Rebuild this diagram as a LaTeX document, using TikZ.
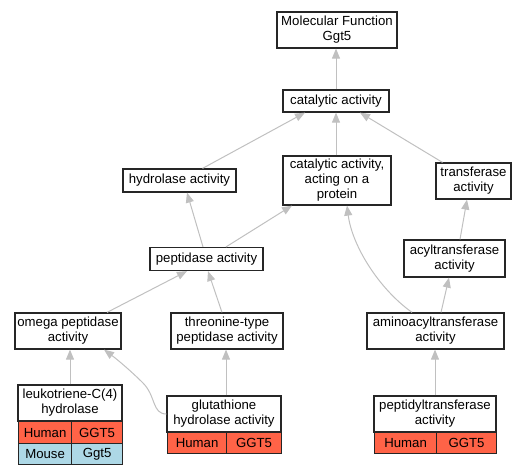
\documentclass[tikz,border=0pt]{standalone}
\usepackage{fontspec}
\setmainfont{Liberation Sans}
\usetikzlibrary{arrows.meta,calc}
\definecolor{edgegray}{HTML}{C0C0C0}
\definecolor{humanred}{HTML}{FF6347}
\definecolor{mouseblue}{HTML}{ADD8E6}
\begin{document}
\begin{tikzpicture}[x=1pt,y=-1pt,
  termbox/.style={draw=black!85,line width=1.2pt,fill=white,inner sep=0pt,align=center,
    font=\fontsize{13.2}{15}\selectfont},
  cellbox/.style={draw=black!85,line width=1.2pt,inner sep=0pt,anchor=north west,
    font=\fontsize{13.2}{15}\selectfont},
  humancell/.style={cellbox,fill=humanred},
  mousecell/.style={cellbox,fill=mouseblue},
  isa/.style={draw=edgegray,line width=1pt,-{Triangle[length=10pt,width=8pt]}}]
\useasboundingbox (0,0) rectangle (527,475);
% term nodes
\node[termbox,minimum width=120pt,minimum height=36pt] (mf) at (337,30) {Molecular Function\\Ggt5};
\node[termbox,minimum width=106pt,minimum height=22pt] (cat) at (336,101) {catalytic activity};
\node[termbox,minimum width=113pt,minimum height=23pt] (hyd) at (179.5,180.5) {hydrolase activity};
\node[termbox,minimum width=108pt,minimum height=49pt] (cap) at (337,180.5) {catalytic activity,\\acting on a\\protein};
\node[termbox,minimum width=75pt,minimum height=36pt] (tra) at (473.5,181) {transferase\\activity};
\node[termbox,minimum width=113pt,minimum height=23pt] (pep) at (206.5,259) {peptidase activity};
\node[termbox,minimum width=101pt,minimum height=37pt] (acy) at (454.5,258.5) {acyltransferase\\activity};
\node[termbox,minimum width=106pt,minimum height=36pt] (ome) at (68,331) {omega peptidase\\activity};
\node[termbox,minimum width=112pt,minimum height=36pt] (thr) at (227,331) {threonine-type\\peptidase activity};
\node[termbox,minimum width=137pt,minimum height=36pt] (ami) at (435.5,331) {aminoacyltransferase\\activity};
% leaf nodes with gene tables
\node[termbox,minimum width=104pt,minimum height=36pt] (leu) at (70,403) {leukotriene-C(4)\\hydrolase};
\node[humancell,minimum width=53pt,minimum height=22pt] (leuh1) at (18,421) {Human};
\node[humancell,minimum width=51pt,minimum height=22pt] (leuh2) at (71,421) {GGT5};
\node[mousecell,minimum width=53pt,minimum height=21pt] (leum1) at (18,443) {Mouse};
\node[mousecell,minimum width=51pt,minimum height=21pt] (leum2) at (71,443) {Ggt5};
\node[termbox,minimum width=114pt,minimum height=36pt] (glu) at (224,414) {glutathione\\hydrolase activity};
\node[humancell,minimum width=59pt,minimum height=21pt] (gluh1) at (167,432) {Human};
\node[humancell,minimum width=55pt,minimum height=21pt] (gluh2) at (226,432) {GGT5};
\node[termbox,minimum width=122pt,minimum height=36pt] (ppt) at (435,414) {peptidyltransferase\\activity};
\node[humancell,minimum width=62pt,minimum height=21pt] (ppth1) at (374,432) {Human};
\node[humancell,minimum width=60pt,minimum height=21pt] (ppth2) at (436,432) {GGT5};
% edges
\draw[isa] (cat.north) -- (cat.north |- mf.south);
\draw[isa] ([xshift=23pt]hyd.north) -- ([xshift=-31pt]cat.south);
\draw[isa] (cap.north -| cat.south) -- (cat.south);
\draw[isa] ([xshift=-31pt]tra.north) -- ([xshift=24pt]cat.south);
\draw[isa] ([xshift=-3.5pt]pep.north) -- ([xshift=7.5pt]hyd.south);
\draw[isa] ([xshift=19.5pt]pep.north) -- ([xshift=-45pt]cap.south);
\draw[isa] ([xshift=-23.5pt]ami.north) .. controls (378,288) and (352,245) .. ([xshift=10pt]cap.south);
\draw[isa] ([xshift=5.5pt]acy.north) -- ([xshift=-6.5pt]tra.south);
\draw[isa] ([xshift=5.5pt]ami.north) -- ([xshift=-5.5pt]acy.south);
\draw[isa] ([xshift=39pt]ome.north) -- ([xshift=-19.5pt]pep.south);
\draw[isa] ([xshift=-5pt]thr.north) -- ([xshift=1.5pt]pep.south);
\draw[isa] (leu.north) -- (leu.north |- ome.south);
\draw[isa] (glu.west) .. controls (152,414) and (156,396) .. (143,383) .. controls (132,372) and (118,360) .. ([xshift=36pt]ome.south);
\draw[isa] ([xshift=2pt]glu.north) -- ([xshift=2pt]glu.north |- thr.south);
\draw[isa] (ppt.north) -- (ppt.north |- ami.south);
\end{tikzpicture}
\end{document}
